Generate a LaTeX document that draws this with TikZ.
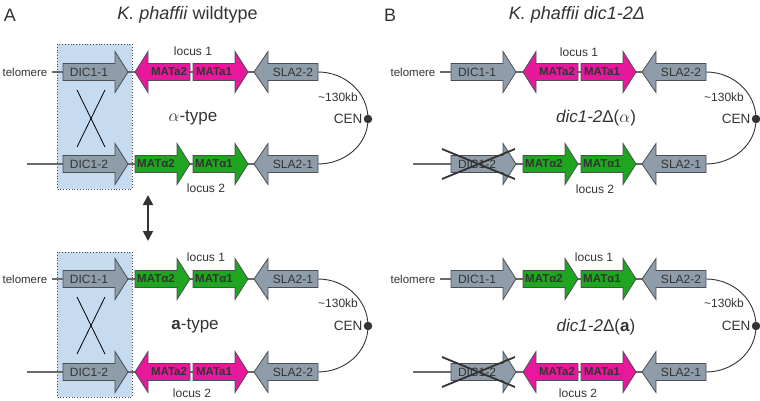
\documentclass[tikz,border=0pt]{standalone}
\usepackage{fontspec}
\setmainfont{Liberation Sans}
\usetikzlibrary{arrows.meta,backgrounds}
\definecolor{gfill}{HTML}{8F9DAA}
\definecolor{gdraw}{HTML}{4A4F55}
\definecolor{pinkf}{HTML}{E8189C}
\definecolor{greenf}{HTML}{1FA51F}
\definecolor{boxf}{HTML}{C6DAF0}
\definecolor{txt}{HTML}{333333}
\definecolor{linec}{HTML}{6A6A6A}
% #1 name, #2 style, #3 body end x, #4 head base x, #5 tip x, #6 y, #7 text style, #8 text
\newcommand\gene[8]{%
  \draw[#2] (#3,#6-8.5) -- (#4,#6-8.5) -- (#4,#6-20.5) -- (#5,#6) -- (#4,#6+20.5) -- (#4,#6+8.5) -- (#3,#6+8.5) -- cycle;
  \node[#7] (#1) at ({(#3+#4)/2},#6) {#8};
  \coordinate (#1-e) at (#3,#6);
}
\begin{document}
\begin{tikzpicture}[x=1pt,y=-1pt,
  grayg/.style={fill=gfill,draw=gdraw,line width=0.8pt},
  pinkg/.style={fill=pinkf,draw=gdraw,line width=0.8pt},
  greeng/.style={fill=greenf,draw=gdraw,line width=0.8pt},
  gtxt/.style={font=\fontsize{12}{14}\selectfont,text=txt,inner sep=0pt},
  mtxt/.style={font=\fontsize{11.5}{14}\selectfont\bfseries,text=txt,inner sep=0pt},
  lbl/.style={font=\fontsize{12}{14}\selectfont,text=txt,inner sep=0pt},
  cenlbl/.style={font=\fontsize{13.5}{15}\selectfont,text=txt,inner sep=0pt},
  typ/.style={font=\fontsize{17}{20}\selectfont,text=txt,inner sep=0pt},
  ttl/.style={font=\fontsize{18}{21}\selectfont,text=txt,inner sep=0pt},
  rowline/.style={draw=linec,line width=1.1pt},
  curve/.style={draw=txt,line width=0.9pt},
  cendot/.style={circle,fill=txt,minimum size=8.5pt,inner sep=0pt},
  boxst/.style={fill=boxf,draw=gdraw,dotted,line width=0.8pt},
  thinx/.style={draw=black,line width=0.8pt},
  thickx/.style={draw=txt,line width=1.8pt},
  dbl/.style={draw=txt,line width=1.8pt,{Triangle[width=10pt,length=10pt]}-{Triangle[width=10pt,length=10pt]}}
]
\useasboundingbox (0,0) rectangle (760,401);

% ---------------- Panel A ----------------
\node[ttl] (letA) at (10,15) {A};
\node[ttl] (titA) at (187.5,15) {\itshape K. phaffii\/\upshape{} wildtype};

% top pair (alpha-type)
\node[lbl,font=\fontsize{11.5}{14}\selectfont] (telA1) at (25,72) {telomere};
\coordinate (stA2) at (27,164);
\gene{dA1}{grayg}{63}{115}{128}{72}{gtxt}{DIC1-1}
\gene{mA1a}{pinkg}{190}{148}{135}{72}{mtxt}{MATa2}
\gene{mA1b}{pinkg}{193}{235}{248}{72}{mtxt}{MATa1}
\gene{sA1}{grayg}{318}{268}{254}{72}{gtxt}{SLA2-2}
\gene{dA2}{grayg}{63}{115}{128}{164}{gtxt}{DIC1-2}
\gene{mA2a}{greeng}{135}{177}{190}{164}{mtxt}{MATα2}
\gene{mA2b}{greeng}{193}{235}{248}{164}{mtxt}{MATα1}
\gene{sA2}{grayg}{318}{268}{254}{164}{gtxt}{SLA2-1}
\node[lbl] (locA1) at (193,51) {locus 1};
\node[lbl] (locA2) at (206,188) {locus 2};
\node[lbl] (kbA1) at (338,97) {\textasciitilde130kb};
\node[cenlbl] (cenlA1) at (348,119) {CEN};
\node[cendot] (cenA1) at (368,119) {};
\node[typ] (typA1) at (193,118) {$\alpha$-type};
\draw[thinx] (77,90) -- (105,147);
\draw[thinx] (105,90) -- (77,147);

% switch arrow
\coordinate (swt) at (148,195);
\coordinate (swb) at (148,241);
\draw[dbl] (swt) -- (swb);

% bottom pair (a-type)
\node[lbl,font=\fontsize{11.5}{14}\selectfont] (telA3) at (25,279) {telomere};
\coordinate (stA4) at (27,372);
\gene{dA3}{grayg}{63}{115}{128}{279}{gtxt}{DIC1-1}
\gene{mA3a}{greeng}{135}{177}{190}{279}{mtxt}{MATα2}
\gene{mA3b}{greeng}{193}{235}{248}{279}{mtxt}{MATα1}
\gene{sA3}{grayg}{318}{268}{254}{279}{gtxt}{SLA2-1}
\gene{dA4}{grayg}{63}{115}{128}{372}{gtxt}{DIC1-2}
\gene{mA4a}{pinkg}{190}{148}{135}{372}{mtxt}{MATa2}
\gene{mA4b}{pinkg}{193}{235}{248}{372}{mtxt}{MATa1}
\gene{sA4}{grayg}{318}{268}{254}{372}{gtxt}{SLA2-2}
\node[lbl] (locA3) at (206,257) {locus 1};
\node[lbl] (locA4) at (192,393) {locus 2};
\node[lbl] (kbA3) at (338,303) {\textasciitilde130kb};
\node[cenlbl] (cenlA3) at (348,326) {CEN};
\node[cendot] (cenA3) at (368,326) {};
\node[typ] (typA3) at (195,326) {\textbf{a}-type};
\draw[thinx] (77,297) -- (105,354);
\draw[thinx] (105,297) -- (77,354);

% ---------------- Panel B ----------------
\node[ttl] (letB) at (390,15) {B};
\node[ttl] (titB) at (577,15) {\itshape K. phaffii dic1-2Δ};
\begin{scope}[xshift=388pt]
\node[lbl,font=\fontsize{11.5}{14}\selectfont] (telB1) at (25,72) {telomere};
\coordinate (stB2) at (25,164);
\gene{dB1}{grayg}{63}{115}{128}{72}{gtxt}{DIC1-1}
\gene{mB1a}{pinkg}{190}{148}{135}{72}{mtxt}{MATa2}
\gene{mB1b}{pinkg}{193}{235}{248}{72}{mtxt}{MATa1}
\gene{sB1}{grayg}{318}{268}{254}{72}{gtxt}{SLA2-2}
\gene{dB2}{grayg}{63}{115}{128}{164}{gtxt}{DIC1-2}
\gene{mB2a}{greeng}{135}{177}{190}{164}{mtxt}{MATα2}
\gene{mB2b}{greeng}{193}{235}{248}{164}{mtxt}{MATα1}
\gene{sB2}{grayg}{318}{268}{254}{164}{gtxt}{SLA2-1}
\node[lbl] (locB1) at (191,52) {locus 1};
\node[lbl] (locB2) at (207,189) {locus 2};
\node[lbl] (kbB1) at (336,97) {\textasciitilde130kb};
\node[cenlbl] (cenlB1) at (348,119) {CEN};
\node[cendot] (cenB1) at (368,119) {};
\node[typ] (typB1) at (208,118) {\itshape dic1-2\upshape Δ($\alpha$)};
\draw[thickx] (54,149) -- (127,179);
\draw[thickx] (54,179) -- (127,149);

\node[lbl,font=\fontsize{11.5}{14}\selectfont] (telB3) at (25,279) {telomere};
\coordinate (stB4) at (25,372);
\gene{dB3}{grayg}{63}{115}{128}{279}{gtxt}{DIC1-1}
\gene{mB3a}{greeng}{135}{177}{190}{279}{mtxt}{MATα2}
\gene{mB3b}{greeng}{193}{235}{248}{279}{mtxt}{MATα1}
\gene{sB3}{grayg}{318}{268}{254}{279}{gtxt}{SLA2-2}
\gene{dB4}{grayg}{63}{115}{128}{372}{gtxt}{DIC1-2}
\gene{mB4a}{pinkg}{190}{148}{135}{372}{mtxt}{MATa2}
\gene{mB4b}{pinkg}{193}{235}{248}{372}{mtxt}{MATa1}
\gene{sB4}{grayg}{318}{268}{254}{372}{gtxt}{SLA2-1}
\node[lbl] (locB3) at (206,257) {locus 1};
\node[lbl] (locB4) at (190,393) {locus 2};
\node[lbl] (kbB3) at (336,303) {\textasciitilde130kb};
\node[cenlbl] (cenlB3) at (348,326) {CEN};
\node[cendot] (cenB3) at (368,326) {};
\node[typ] (typB3) at (208,327) {\itshape dic1-2\upshape Δ(\textbf{a})};
\draw[thickx] (54,357) -- (127,387);
\draw[thickx] (54,387) -- (127,357);
\end{scope}

% ---------------- background: boxes, row lines, curves ----------------
\begin{pgfonlayer}{background}
  \draw[boxst] (57,44) rectangle (132,189);
  \draw[boxst] (57,252) rectangle (132,397);
  \draw[rowline] ([xshift=4pt]telA1.east) -- (sA1-e);
  \draw[rowline] (stA2) -- (sA2-e);
  \draw[rowline] ([xshift=4pt]telA3.east) -- (sA3-e);
  \draw[rowline] (stA4) -- (sA4-e);
  \draw[rowline] ([xshift=4pt]telB1.east) -- (sB1-e);
  \draw[rowline] (stB2) -- (sB2-e);
  \draw[rowline] ([xshift=4pt]telB3.east) -- (sB3-e);
  \draw[rowline] (stB4) -- (sB4-e);
  \draw[curve] (sA1-e) to[out=0,in=90] (cenA1.center) to[out=-90,in=0] (sA2-e);
  \draw[curve] (sA3-e) to[out=0,in=90] (cenA3.center) to[out=-90,in=0] (sA4-e);
  \draw[curve] (sB1-e) to[out=0,in=90] (cenB1.center) to[out=-90,in=0] (sB2-e);
  \draw[curve] (sB3-e) to[out=0,in=90] (cenB3.center) to[out=-90,in=0] (sB4-e);
\end{pgfonlayer}
\end{tikzpicture}
\end{document}
